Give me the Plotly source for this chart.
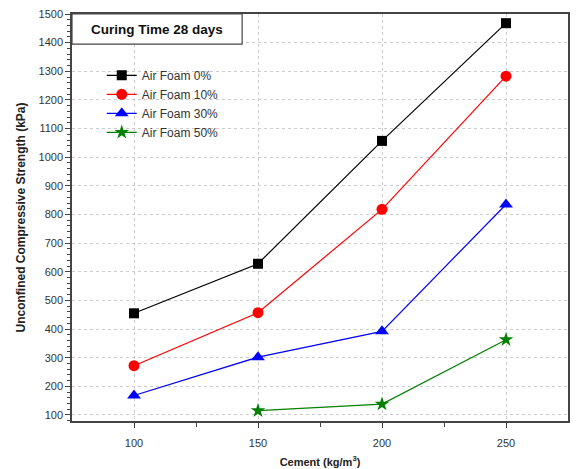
import plotly.graph_objects as go

cement = [100, 150, 200, 250]
foam0 = [455, 628, 1057, 1468]
foam10 = [272, 457, 818, 1283]
foam30 = [168, 302, 392, 835]
cement50 = [150, 200, 250]
foam50 = [115, 138, 363]

series = [
    ("Air Foam 0%", cement, foam0, "black", "square", 10),
    ("Air Foam 10%", cement, foam10, "red", "circle", 11),
    ("Air Foam 30%", cement, foam30, "blue", "triangle-up", 12),
    ("Air Foam 50%", cement50, foam50, "green", "star", 11),
]

fig = go.Figure()
for name, xs, ys, col, sym, sz in series:
    fig.add_trace(go.Scatter(x=xs, y=ys, name=name, mode="lines+markers",
                             line=dict(color=col, width=1.2),
                             marker=dict(symbol=sym, size=sz, color=col)))

font = "Liberation Sans, Arial, sans-serif"
fig.update_layout(
    width=576, height=469,
    margin=dict(l=72, r=8, t=14, b=48),
    paper_bgcolor="white", plot_bgcolor="white",
    font=dict(family=font, size=11, color="#333"),
    showlegend=True,
    legend=dict(x=0.06, y=0.885, xanchor="left", yanchor="top",
                bgcolor="rgba(0,0,0,0)", font=dict(size=12, color="#333"),
                tracegroupgap=0, itemwidth=30),
    xaxis=dict(range=[75, 275], tickvals=[100, 150, 200, 250], automargin=False,
               showline=True, linecolor="#444", linewidth=1.5, mirror=True,
               ticks="outside", ticklen=5, tickcolor="#444", ticklabelstandoff=6,
               minor=dict(tickvals=[125, 175, 225], ticks="outside", ticklen=4, tickcolor="#444"),
               showgrid=True, gridcolor="#ccc", griddash="dot", zeroline=False,
               title=dict(text="<b>Cement (kg/m<sup>3</sup>)</b>", font=dict(size=11, color="#222"), standoff=10)),
    yaxis=dict(range=[79, 1500], dtick=100, tick0=100, automargin=False,
               showline=True, linecolor="#444", linewidth=1.5, mirror=True,
               ticks="outside", ticklen=5, tickcolor="#444",
               minor=dict(dtick=20, ticks="outside", ticklen=3, tickcolor="#444"),
               showgrid=True, gridcolor="#ccc", griddash="dot", zeroline=False,
               title=dict(text="<b>Unconfined Compressive Strength (kPa)</b>", font=dict(size=12, color="#222"), standoff=10)),
)

fig.add_shape(type="rect", xref="paper", yref="paper", x0=0, x1=0.343, y0=0.926, y1=1,
              line=dict(color="#444", width=1.2), fillcolor="white", layer="above")
fig.add_annotation(text="<b>Curing Time 28 days</b>", xref="paper", yref="paper",
                   x=0.035, y=0.963, xanchor="left", yanchor="middle",
                   showarrow=False, font=dict(size=13.5, color="#111"))

fig.write_html("out.html")
